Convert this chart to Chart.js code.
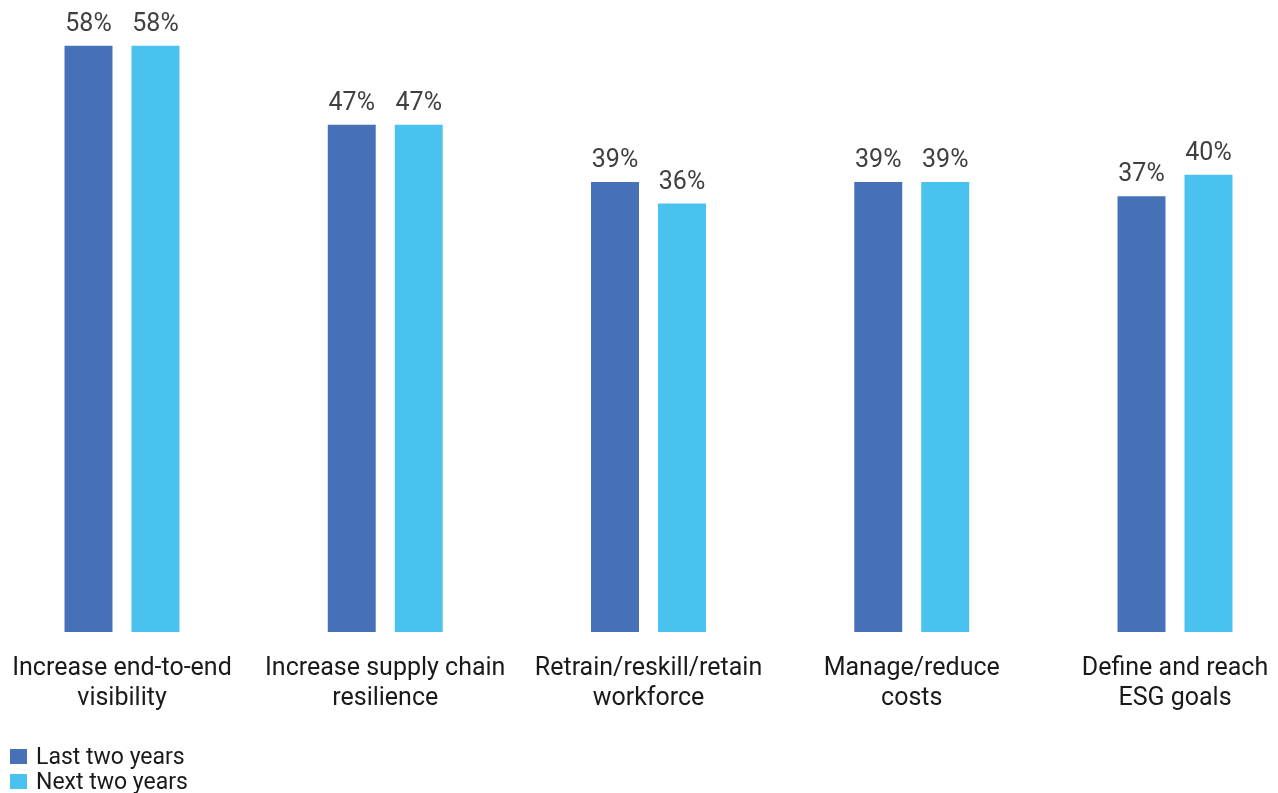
<!DOCTYPE html>
<html>
<head>
<meta charset="utf-8">
<script src="https://cdn.jsdelivr.net/npm/chart.js@4"></script>
<style>
  body { margin: 0; background: #fff; font-family: Roboto, sans-serif; }
  #wrap { position: relative; width: 1278px; height: 793px; }
  #legend { position: absolute; left: 10px; top: 744px; font-size: 23px; color: #1a1a1a; }
  .item { display: flex; align-items: center; height: 25px; }
  .swatch { width: 17px; height: 15px; margin-right: 9px; }
</style>
</head>
<body>
<div id="wrap">
  <canvas id="chart" width="1278" height="793"></canvas>
  <div id="legend"></div>
</div>
<script>
// categories (two-line labels as in the source)
const categories = [
    ['Increase end-to-end', 'visibility'],
    ['Increase supply chain', 'resilience'],
    ['Retrain/reskill/retain', 'workforce'],
    ['Manage/reduce', 'costs'],
    ['Define and reach', 'ESG goals']
];
const seriesNames = ['Last two years', 'Next two years'];
const lastTwoYears = [58, 47, 39, 39, 37];
const nextTwoYears = [58, 47, 36, 39, 40];
const colors = ['#4771b6', '#4ac2f0'];

// value axis of the source does not start at zero
const yMin = -23.8;
const yMax = 64.4;

// draw the percentage above each bar
const valueLabels = {
    id: 'valueLabels',
    afterDatasetsDraw(chart) {
        const ctx = chart.ctx;
        ctx.save();
        ctx.font = '25px Roboto';
        ctx.fillStyle = '#404040';
        ctx.textAlign = 'center';
        ctx.textBaseline = 'alphabetic';
        chart.data.datasets.forEach((ds, i) => {
            chart.getDatasetMeta(i).data.forEach((bar, j) => {
                ctx.fillText(ds.data[j] + '%', bar.x, bar.y - 15);
            });
        });
        ctx.restore();
    }
};

const ctx = document.getElementById('chart').getContext('2d');
const chart = new Chart(ctx, {
    type: 'bar',
    data: {
        labels: categories,
        datasets: [
            { label: seriesNames[0], data: lastTwoYears, backgroundColor: colors[0], base: yMin, clip: false },
            { label: seriesNames[1], data: nextTwoYears, backgroundColor: colors[1], base: yMin, clip: false }
        ]
    },
    options: {
        responsive: false,
        animation: false,
        categoryPercentage: 0.509,
        barPercentage: 0.716,
        layout: {
            padding: { left: 122, right: 103, top: 0, bottom: 57 }
        },
        plugins: {
            legend: { display: false },
            tooltip: { enabled: false }
        },
        scales: {
            x: {
                offset: false,
                grid: { display: false, drawTicks: false },
                border: { display: false },
                ticks: {
                    color: '#1a1a1a',
                    font: { family: 'Roboto', size: 25, lineHeight: 1.2 },
                    padding: 22,
                    maxRotation: 0,
                    minRotation: 0,
                    autoSkip: false
                },
                // labels may hang into the side padding
                afterFit(scale) {
                    scale.paddingLeft = 0;
                    scale.paddingRight = 0;
                }
            },
            y: {
                display: false,
                min: yMin,
                max: yMax
            }
        }
    },
    plugins: [valueLabels]
});

// simple legend stacked under the axis
const legend = document.getElementById('legend');
seriesNames.forEach((name, i) => {
    const row = document.createElement('div');
    row.className = 'item';
    row.innerHTML = '<span class="swatch" style="background:' + colors[i] + '"></span>' + name;
    legend.appendChild(row);
});
</script>
</body>
</html>
